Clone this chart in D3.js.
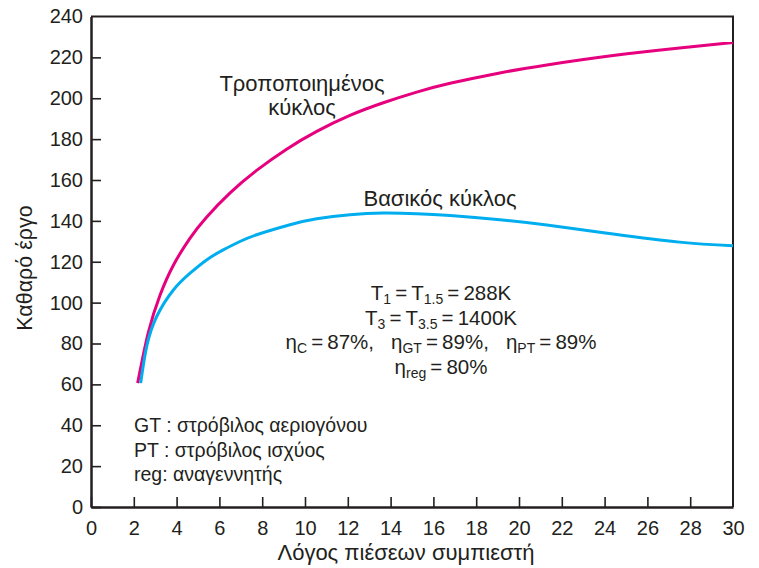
<!DOCTYPE html>
<html>
<head>
<meta charset="utf-8">
<script src="https://cdn.jsdelivr.net/npm/d3@7/dist/d3.min.js"></script>
<style>
  html, body { margin: 0; padding: 0; background: #fff; }
  svg { display: block; font-family: "Liberation Sans", Arial, Helvetica, sans-serif; }
</style>
</head>
<body>
<svg id="chart" width="759" height="568"></svg>
<script>
// ---- data ----
const xTicks = [0, 2, 4, 6, 8, 10, 12, 14, 16, 18, 20, 22, 24, 26, 28, 30];
const yTicks = [0, 20, 40, 60, 80, 100, 120, 140, 160, 180, 200, 220, 240];

const modifiedX = [2.18, 2.68, 3.22, 3.85, 4.63, 5.4, 6.5, 7.74, 9.14, 10.55, 12.1, 13.66, 15.22, 16.78, 19.1, 21.3, 24.4, 27.5, 30];
const modifiedY = [60.6, 85.4, 103.5, 118.3, 131.6, 141.8, 153.7, 164.7, 175.1, 183.8, 191.6, 197.8, 203.0, 207.3, 212.4, 216.3, 220.9, 224.6, 227.3];

const basicX = [2.32, 2.6, 3.07, 3.85, 4.63, 5.4, 6.18, 6.96, 7.74, 9.3, 10.55, 12.1, 13.66, 15.22, 16.78, 19.1, 21.3, 24.4, 27.5, 30];
const basicY = [60.6, 78.5, 93.2, 106.2, 114.4, 120.9, 125.8, 129.9, 133.2, 138.1, 141.0, 143.0, 143.8, 143.5, 142.6, 140.6, 138.0, 133.6, 129.6, 127.8];

const xTitle = "Λόγος πιέσεων συμπιεστή";
const yTitle = "Καθαρό έργο";
const modifiedLabel = ["Τροποποιημένος", "κύκλος"];
const basicLabel = "Βασικός κύκλος";
const eq = "\u2009=\u2009";
const paramLines = [
  [["T", 0], ["1", 1], [eq + "T", 0], ["1.5", 1], [eq + "288K", 0]],
  [["T", 0], ["3", 1], [eq + "T", 0], ["3.5", 1], [eq + "1400K", 0]],
  [["η", 0], ["C", 1], [eq + "87%,   η", 0], ["GT", 1], [eq + "89%,   η", 0], ["PT", 1], [eq + "89%", 0]],
  [["η", 0], ["reg", 1], [eq + "80%", 0]]
];
const notes = ["GT : στρόβιλος αεριογόνου", "PT : στρόβιλος ισχύος", "reg: αναγεννητής"];

// ---- setup ----
const svg = d3.select("#chart");
const ink = "#231f20";
const x = d3.scaleLinear().domain([0, 30]).range([91, 733]);
const y = d3.scaleLinear().domain([0, 240]).range([507, 16.5]);

// frame (top and right)
svg.append("path")
  .attr("d", `M${x(0)},${y(240)}H${x(30)}V${y(0)}`)
  .attr("fill", "none").attr("stroke", ink).attr("stroke-width", 2);

// axes
const xAxis = d3.axisBottom(x).tickValues(xTicks).tickSizeInner(-10).tickSizeOuter(0).tickPadding(14);
const yAxis = d3.axisLeft(y).tickValues(yTicks).tickSizeInner(-10).tickSizeOuter(0).tickPadding(8);

const gx = svg.append("g").attr("transform", `translate(0,${y(0)})`).call(xAxis);
const gy = svg.append("g").attr("transform", `translate(${x(0)},0)`).call(yAxis);
[gx, gy].forEach(g => {
  g.select(".domain").attr("stroke", ink).attr("stroke-width", 2.5);
  g.selectAll(".tick line").attr("stroke", ink).attr("stroke-width", 1.6);
  g.selectAll(".tick text").attr("fill", ink).style("font-size", "20px")
    .style("font-family", '"Liberation Sans", Arial, sans-serif');
});
gx.selectAll(".tick").filter(d => d === 30).select("line").remove();
gy.selectAll(".tick").filter(d => d === 240).select("line").remove();

// curves
const line = d3.line().x(d => x(d[0])).y(d => y(d[1])).curve(d3.curveNatural);
const modified = modifiedX.map((v, i) => [v, modifiedY[i]]);
const basic = basicX.map((v, i) => [v, basicY[i]]);

svg.append("path").datum(modified).attr("d", line)
  .attr("fill", "none").attr("stroke", "#e6007e").attr("stroke-width", 3);
svg.append("path").datum(basic).attr("d", line)
  .attr("fill", "none").attr("stroke", "#00aeef").attr("stroke-width", 3);

// axis titles
svg.append("text").attr("x", 406).attr("y", 560).attr("text-anchor", "middle")
  .attr("fill", ink).style("font-size", "22px").text(xTitle);
svg.append("text").attr("transform", "translate(32,268) rotate(-90)").attr("text-anchor", "middle")
  .attr("fill", ink).style("font-size", "21.5px").text(yTitle);

// curve labels
modifiedLabel.forEach((t, i) => {
  svg.append("text").attr("x", 302).attr("y", 91 + i * 24).attr("text-anchor", "middle")
    .attr("fill", ink).style("font-size", "22px").text(t);
});
svg.append("text").attr("x", 440).attr("y", 206).attr("text-anchor", "middle")
  .attr("fill", ink).style("font-size", "22px").text(basicLabel);

// parameter block (centred lines)
paramLines.forEach((segs, i) => {
  const t = svg.append("text").attr("x", 441).attr("y", 300 + i * 24.6)
    .attr("text-anchor", "middle").attr("fill", ink).style("font-size", "20.5px")
    .attr("xml:space", "preserve").style("white-space", "pre");
  let sub = false;
  segs.forEach(([s, isSub]) => {
    const ts = t.append("tspan").text(s);
    if (isSub) ts.style("font-size", "14px");
    if (isSub && !sub) { ts.attr("dy", 4); sub = true; }
    else if (!isSub && sub) { ts.attr("dy", -4); sub = false; }
  });
});

// notes
notes.forEach((t, i) => {
  svg.append("text").attr("x", 134).attr("y", 432 + i * 24.5)
    .attr("fill", ink).style("font-size", "19.5px").text(t);
});
</script>
</body>
</html>
